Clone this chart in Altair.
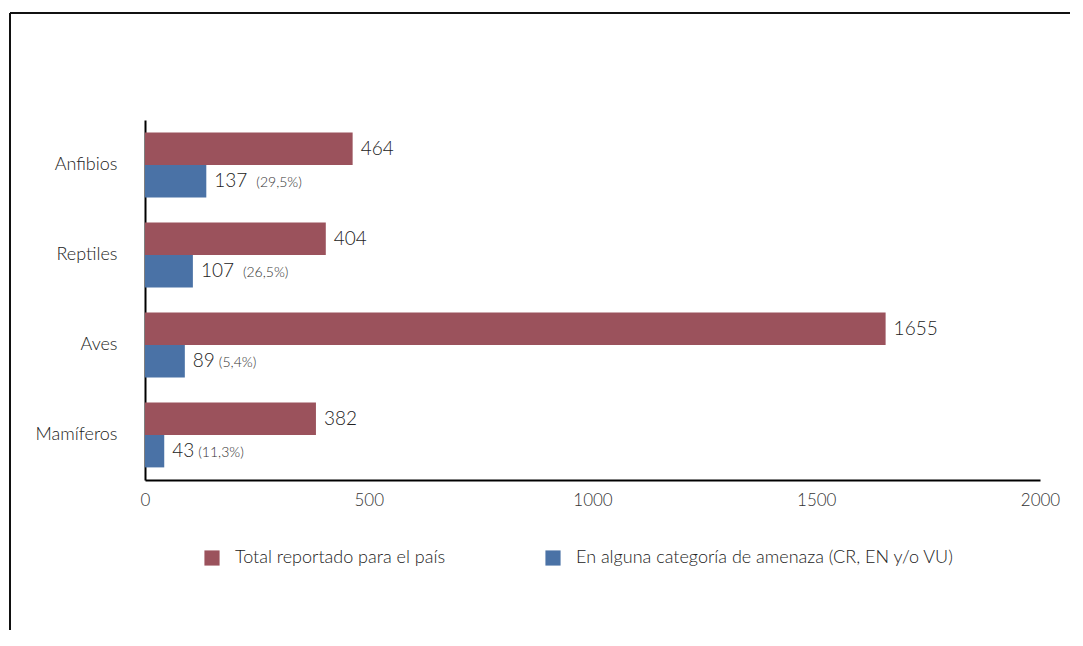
import altair as alt
import pandas as pd

categories = ["Anfibios", "Reptiles", "Aves", "Mamíferos"]
total = [464, 404, 1655, 382]
threatened = [137, 107, 89, 43]
pct_labels = ["(29,5%)", "(26,5%)", "(5,4%)", "(11,3%)"]
series_names = ["Total reportado para el país", "En alguna categoría de amenaza (CR, EN y/o VU)"]
colors = ["#9b525c", "#4a72a6"]
x_ticks = [0, 500, 1000, 1500, 2000]

rows = []
for c, t, th, p in zip(categories, total, threatened, pct_labels):
    rows.append({"cat": c, "series": series_names[0], "value": t, "label": str(t), "pct": "", "digits": len(str(t))})
    rows.append({"cat": c, "series": series_names[1], "value": th, "label": str(th), "pct": p, "digits": len(str(th))})
df = pd.DataFrame(rows)

FONT = "Lato"
W = 300
TXT = "#222222"

y_enc = alt.Y("cat:N", sort=categories, title=None,
              scale=alt.Scale(paddingInner=0.28, paddingOuter=0.14),
              axis=alt.Axis(labelFontSize=18, labelPadding=28, labelColor=TXT, labelFontWeight=W,
                            ticks=False, domainColor="#000000", domainWidth=2, labelFont=FONT))
yoff = alt.YOffset("series:N", sort=series_names, scale=alt.Scale(paddingInner=0, paddingOuter=0))
x_enc = alt.X("value:Q", title=None,
              scale=alt.Scale(domain=[0, 2000], nice=False),
              axis=alt.Axis(values=x_ticks, labelFontSize=17, labelColor="#333333", ticks=False,
                            grid=False, domainColor="#000000", domainWidth=2, labelPadding=12,
                            labelFont=FONT, labelFontWeight=W, format="d", labelFlush=False))

base = alt.Chart(df)

bars = base.mark_bar(cornerRadius=0).encode(
    y=y_enc, yOffset=yoff, x=x_enc,
    color=alt.Color("series:N", sort=series_names,
                    scale=alt.Scale(domain=series_names, range=colors),
                    legend=alt.Legend(title=None, orient="none", direction="horizontal",
                                      legendX=58, legendY=429, symbolType="square",
                                      symbolSize=230, symbolStrokeWidth=0, labelFontSize=18,
                                      labelColor=TXT, labelFont=FONT, labelFontWeight=W,
                                      labelOffset=14, columnPadding=98, labelLimit=500)),
)

nums = base.mark_text(align="left", baseline="middle", dx=8, fontSize=19, color=TXT,
                      font=FONT, fontWeight=W).encode(
    y=alt.Y("cat:N", sort=categories), yOffset=yoff, x="value:Q", text="label:N"
)

pct3 = base.transform_filter("datum.pct != '' && datum.digits == 3").mark_text(
    align="left", baseline="middle", dx=50, dy=2, fontSize=14, color="#333333", font=FONT, fontWeight=W
).encode(y=alt.Y("cat:N", sort=categories), yOffset=yoff, x="value:Q", text="pct:N")

pct2 = base.transform_filter("datum.pct != '' && datum.digits == 2").mark_text(
    align="left", baseline="middle", dx=34, dy=2, fontSize=14, color="#333333", font=FONT, fontWeight=W
).encode(y=alt.Y("cat:N", sort=categories), yOffset=yoff, x="value:Q", text="pct:N")

frame_top = alt.Chart(pd.DataFrame({"k": [0]})).mark_rule(color="#111111", strokeWidth=2).encode(
    x=alt.value(-135), x2=alt.value(935), y=alt.value(-107)
)
frame_left = alt.Chart(pd.DataFrame({"k": [0]})).mark_rule(color="#111111", strokeWidth=2).encode(
    x=alt.value(-135), y=alt.value(-107), y2=alt.value(530)
)

chart = alt.layer(bars, nums, pct3, pct2, frame_top, frame_left).properties(
    width=895, height=360,
    autosize=alt.AutoSizeParams(type="none"),
    padding={"left": 137, "top": 112, "right": 30, "bottom": 150},
).configure(font=FONT).configure_view(strokeWidth=0, stroke=None)

chart.save("out.html", embed_options={"renderer": "svg", "actions": False})
